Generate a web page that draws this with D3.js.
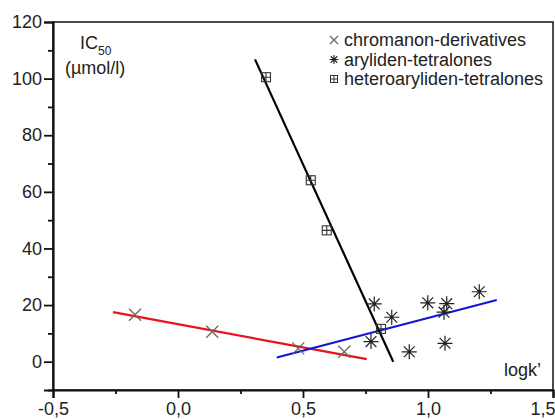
<!DOCTYPE html>
<html><head><meta charset="utf-8">
<script src="https://cdn.jsdelivr.net/npm/d3@7"></script>
<style>body{margin:0;background:#fff}svg{display:block}text{font-family:"Liberation Sans",Arial,sans-serif}</style>
</head><body>
<svg id="c" width="555" height="419"></svg>
<script>
// data (logk', IC50)
const chromanon = [[-0.172,16.6],[0.137,10.6],[0.481,4.7],[0.665,3.5]];
const aryliden = [[0.785,20.4],[0.855,15.7],[0.772,7.1],[0.925,3.5],[0.999,20.8],[1.075,20.5],[1.064,17.5],[1.068,6.5],[1.205,24.7]];
const heteroaryl = [[0.352,100.5],[0.531,64.1],[0.595,46.4],[0.812,11.6]];
const fitChromanon = [[-0.26,17.5],[0.755,0.9]];
const fitAryliden = [[0.395,1.5],[1.275,21.8]];
const fitHetero = [[0.308,106.8],[0.861,0.0]];
const xTicks = [-0.5,0,0.5,1,1.5];
const xMinor = [-0.25,0.25,0.75,1.25];
const yTicks = [0,20,40,60,80,100,120];
const yMinor = [-10,10,30,50,70,90,110];
const legendLabels = ["chromanon-derivatives","aryliden-tetralones","heteroaryliden-tetralones"];

const svg = d3.select("#c");
const L=53,T=22,R=553,B=390;
const x = d3.scaleLinear().domain([-0.5,1.5]).range([L,R]);
const y = d3.scaleLinear().domain([-10,120]).range([B,T]);
const fmt = d => d3.format(".1f")(d).replace(".",",").replace("−","-");

// frame
svg.append("rect").attr("x",L).attr("y",T).attr("width",R-L).attr("height",B-T)
  .attr("fill","none").attr("stroke","#111").attr("stroke-width",1.5);

// axes
const xa = svg.append("g").attr("transform",`translate(0,${B})`)
  .call(d3.axisBottom(x).tickValues(xTicks).tickFormat(fmt).tickSize(8).tickPadding(4));
svg.append("g").attr("transform",`translate(0,${B})`)
  .call(d3.axisBottom(x).tickValues(xMinor).tickFormat("").tickSize(4))
  .call(g=>g.select(".domain").remove());
const ya = svg.append("g").attr("transform",`translate(${L},0)`)
  .call(d3.axisLeft(y).tickValues(yTicks).tickSize(9).tickPadding(2));
svg.append("g").attr("transform",`translate(${L},0)`)
  .call(d3.axisLeft(y).tickValues(yMinor).tickFormat("").tickSize(5))
  .call(g=>g.select(".domain").remove());
svg.selectAll(".domain").attr("stroke","#111").attr("stroke-width",2.2);
svg.selectAll(".tick line").attr("stroke","#111").attr("stroke-width",1.8);
svg.selectAll(".tick text").attr("font-size",18).attr("fill","#222")
  .attr("font-family","'Liberation Sans',Arial,sans-serif");
// keep the last x label inside the window
xa.selectAll(".tick text").filter(d=>d===1.5).attr("text-anchor","end").attr("x",2);

// fit lines
const line = d3.line().x(d=>x(d[0])).y(d=>y(d[1]));
svg.append("path").datum(fitChromanon).attr("d",line).attr("stroke","#e8141c").attr("stroke-width",2.2).attr("fill","none");
svg.append("path").datum(fitAryliden).attr("d",line).attr("stroke","#1414d8").attr("stroke-width",2.2).attr("fill","none");
svg.append("path").datum(fitHetero).attr("d",line).attr("stroke","#000").attr("stroke-width",2.2).attr("fill","none");

// markers
function cross(g,s,col,w){ g.append("path").attr("d",`M${-s},${-s}L${s},${s}M${-s},${s}L${s},${-s}`).attr("stroke",col).attr("stroke-width",w).attr("fill","none"); }
function star(g,s,col,w){ const d=s*0.72; g.append("path").attr("d",`M${-d},${-d}L${d},${d}M${-d},${d}L${d},${-d}M0,${-s}L0,${s}M${-s},0L${s},0`).attr("stroke",col).attr("stroke-width",w).attr("fill","none"); g.append("circle").attr("r",1.4).attr("fill",col); }
function sq(g,s,col,w){ g.append("rect").attr("x",-s).attr("y",-s).attr("width",2*s).attr("height",2*s).attr("fill","none").attr("stroke",col).attr("stroke-width",w); g.append("path").attr("d",`M${-s},0L${s},0M0,${-s}L0,${s}`).attr("stroke",col).attr("stroke-width",w); }

svg.append("g").selectAll("g").data(chromanon).join("g")
  .attr("transform",d=>`translate(${x(d[0])},${y(d[1])})`).each(function(){cross(d3.select(this),6,"#666",1.3);});
svg.append("g").selectAll("g").data(aryliden).join("g")
  .attr("transform",d=>`translate(${x(d[0])},${y(d[1])})`).each(function(){star(d3.select(this),7.5,"#222",1.2);});
svg.append("g").selectAll("g").data(heteroaryl).join("g")
  .attr("transform",d=>`translate(${x(d[0])},${y(d[1])})`).each(function(){sq(d3.select(this),4.5,"#333",1.1);});

// legend
const lg = svg.append("g");
const makers=[(g)=>cross(g,4,"#666",1.2),(g)=>star(g,4.5,"#222",1.1),(g)=>sq(g,3.5,"#333",1)];
legendLabels.forEach((t,i)=>{
  const yy = 40 + i*19.5;
  const g = lg.append("g").attr("transform",`translate(334,${yy})`);
  makers[i](g);
  lg.append("text").attr("x",344).attr("y",yy+6).attr("font-size",18).attr("fill","#222").text(t);
});

// axis titles
const yt = svg.append("text").attr("x",80).attr("y",49).attr("font-size",18).attr("fill","#222");
yt.append("tspan").text("IC");
yt.append("tspan").attr("dy",6).attr("font-size",12).text("50");
svg.append("text").attr("x",65).attr("y",74).attr("font-size",18).attr("fill","#222").text("(µmol/l)");
svg.append("text").attr("x",504).attr("y",376).attr("font-size",18).attr("fill","#222").text("logk’");
</script>
</body></html>
